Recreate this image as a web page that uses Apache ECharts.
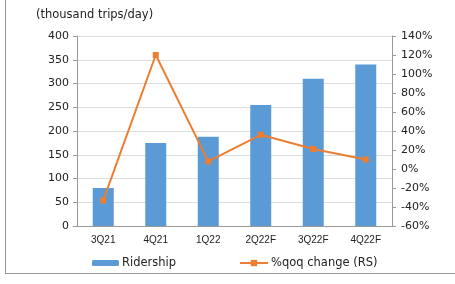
<!DOCTYPE html>
<html><head><meta charset="utf-8">
<script src="https://cdn.jsdelivr.net/npm/echarts@6/dist/echarts.min.js"></script>
<style>html,body{margin:0;padding:0;background:#fff}#c{width:455px;height:284px}</style>
</head><body><div id="c"></div>
<script>
const categories = ['3Q21','4Q21','1Q22','2Q22F','3Q22F','4Q22F'];
const ridership = [80, 175, 188, 255, 310, 340];
const qoqChange = [-33, 120, 8, 36, 21, 10];
const leftTicks = [0, 400, 50];
const rightTicks = [-60, 140, 20];

const chart = echarts.init(document.getElementById('c'));
const font = '"DejaVu Sans", sans-serif';
const fontX = '"Liberation Sans", Arial, sans-serif';
const txt = '#222';
chart.setOption({
  animation: false,
  graphic: [
    {type:'line', shape:{x1:5.5,y1:0,x2:5.5,y2:273}, style:{stroke:'#999',lineWidth:1}},
    {type:'line', shape:{x1:5,y1:273.5,x2:455,y2:273.5}, style:{stroke:'#999',lineWidth:1}},
    {type:'text', left:36, top:9, style:{text:'(thousand trips/day)', font:'11.5px '+font, fill:txt}}
  ],
  grid: {left:77, right:63, top:36, bottom:58, containLabel:false},
  legend: [
    {data:['Ridership'], left:92, top:257, padding:0, itemWidth:27, itemHeight:6, itemGap:0,
     textStyle:{fontSize:11.5, fontFamily:font, color:txt, padding:[0,0,0,-2]}},
    {data:['%qoq change (RS)'], left:239, top:257, padding:0, itemWidth:28, itemHeight:8,
     textStyle:{fontSize:11.5, fontFamily:font, color:txt, padding:[0,0,0,-2]}}
  ],
  xAxis: {
    type:'category', data:categories,
    axisLine:{lineStyle:{color:'#999'}}, axisTick:{show:false},
    axisLabel:{fontSize:10, fontFamily:fontX, color:txt, margin:9}
  },
  yAxis: [
    {type:'value', min:leftTicks[0], max:leftTicks[1], interval:leftTicks[2],
     axisLine:{show:true, lineStyle:{color:'#999'}},
     axisTick:{show:true, inside:false, length:4, lineStyle:{color:'#999'}},
     splitLine:{lineStyle:{color:'#ddd'}},
     axisLabel:{fontSize:11, fontFamily:font, color:txt, margin:8}},
    {type:'value', min:rightTicks[0], max:rightTicks[1], interval:rightTicks[2], position:'right',
     axisLine:{show:true, lineStyle:{color:'#999'}},
     axisTick:{show:true, length:4, lineStyle:{color:'#999'}},
     splitLine:{show:false},
     axisLabel:{fontSize:11, fontFamily:font, color:txt, margin:9, formatter:'{value}%'}}
  ],
  series: [
    {name:'Ridership', type:'bar', data:ridership, barWidth:21, yAxisIndex:0,
     itemStyle:{color:'#5B9BD5'}},
    {name:'%qoq change (RS)', type:'line', data:qoqChange, yAxisIndex:1,
     symbol:'rect', symbolSize:6, lineStyle:{color:'#ED7D31', width:2},
     itemStyle:{color:'#ED7D31'}}
  ]
});
</script></body></html>
